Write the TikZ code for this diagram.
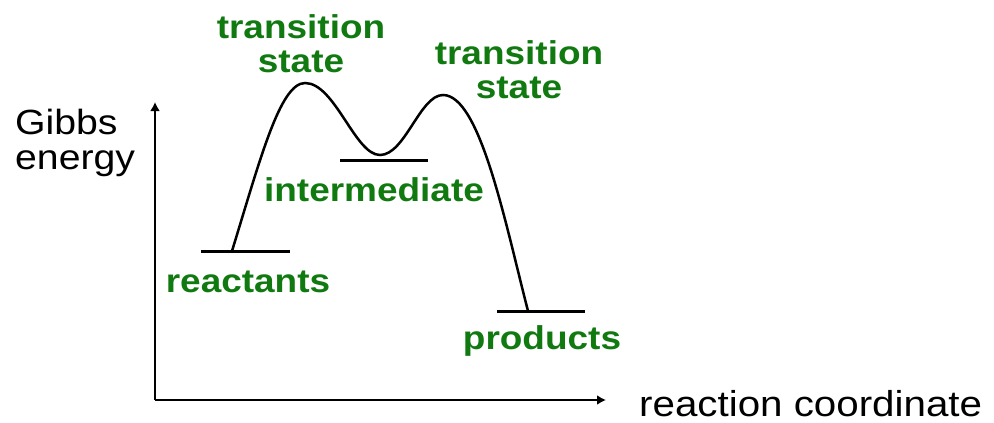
\documentclass[tikz,border=0pt]{standalone}
\usepackage{fontspec}
\setmainfont{Liberation Sans}
\newfontfamily\plotfont[FakeStretch=1.12]{Liberation Sans}
\usetikzlibrary{arrows.meta}
\definecolor{labelgreen}{RGB}{16,122,16}
\tikzset{
	axislabel/.style={inner sep=0, font={\plotfont\fontsize{35}{35}\selectfont}},
	greenlabel/.style={inner sep=0, text=labelgreen, align=center, font={\plotfont\bfseries\fontsize{33}{34}\selectfont}},
	level/.style={line width=3pt},
	axis/.style={line width=2.5pt, -{Latex[length=9pt,width=10pt]}}
}

\begin{document}
\begin{tikzpicture}[x=1pt, y=-1pt]
			%%%%% START %%%%%
			
			\useasboundingbox (0, 0) rectangle (994, 423);
			
			\coordinate (origin) at (155, 400);
			\coordinate (ytip) at (155, 102);
			\coordinate (xtip) at (606, 400);
			\draw[axis] (origin) -- (ytip);
			\draw[axis] (origin) -- (xtip);
			
			\coordinate (reac) at (232, 251);
			\coordinate (ts1) at (305, 83);
			\coordinate (inter) at (380, 155);
			\coordinate (ts2) at (443, 95);
			\coordinate (prod) at (528, 311);
			
			\draw[level] (201, 251) -- (290, 251);
			\draw[level] (340, 160) -- (428, 160);
			\draw[level] (497, 311) -- (585, 311);
			
			\draw[line width=2.5pt] (reac) .. controls (260, 160) and (280, 83) .. (ts1)
				.. controls (335, 83) and (355, 155) .. (inter)
				.. controls (405, 155) and (420, 95) .. (ts2)
				.. controls (480, 95) and (505, 222) .. (prod);
			
			\node[greenlabel] (ts1label) at (301, 44) {transition\\state};
			\node[greenlabel] (ts2label) at (519, 70) {transition\\state};
			\node[greenlabel, anchor=base] (interlabel) at (374, 201) {intermediate};
			\node[greenlabel, anchor=base] (reaclabel) at (248, 292) {reactants};
			\node[greenlabel, anchor=base] (prodlabel) at (542, 349) {products};
			
			\node[axislabel, align=left, anchor=north west] (ylabel) at (15, 109) {Gibbs\\energy};
			\node[axislabel, font={\plotfont\fontsize{36}{36}\selectfont}, anchor=base west] (xlabel) at (639, 416) {reaction coordinate};
			
			%%%%% END %%%%%
		\end{tikzpicture}
\end{document}
